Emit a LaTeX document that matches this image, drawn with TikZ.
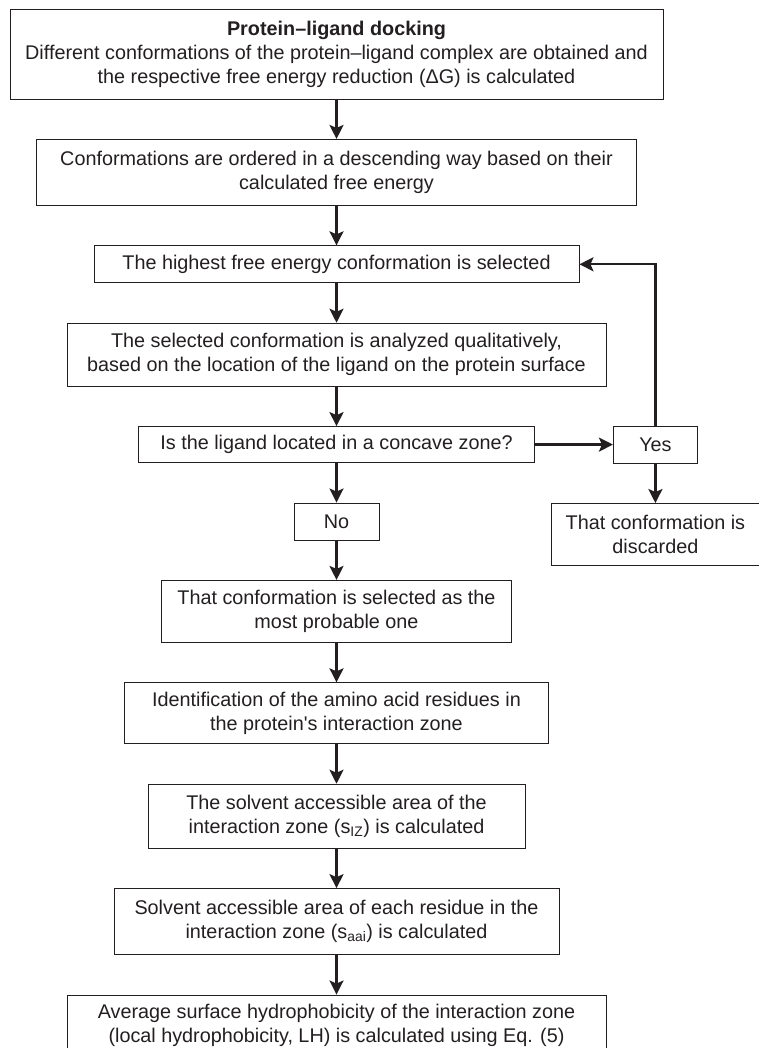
\documentclass[tikz,border=0pt]{standalone}
\usepackage{fontspec}
\setmainfont{Liberation Sans}
\usepackage{tikz}
\usetikzlibrary{positioning,arrows.meta}
\definecolor{inkgray}{HTML}{231F20}
\tikzset{
  box/.style={draw=inkgray,text=inkgray,line width=0.9pt,align=center,inner xsep=4pt,inner ysep=2pt,
    font=\fontsize{19.8}{24}\selectfont},
  arr/.style={-{Stealth[length=14pt,width=14pt,inset=3pt]},line width=2.4pt,draw=inkgray}
}

\begin{document}
\begin{tikzpicture}[x=1pt,y=1pt,node distance=39.5pt]
\useasboundingbox (0,0) rectangle (758,-1048);
\node[box, minimum width=653pt, minimum height=90pt] (dock) at (336.5,-54)
  {\textbf{Protein–ligand docking}\\Different conformations of the protein–ligand complex are obtained and\\the respective free energy reduction (ΔG) is calculated};
\node[box, below=of dock, minimum width=600pt, minimum height=66pt] (order)
  {Conformations are ordered in a descending way based on their\\calculated free energy};
\node[box, below=of order, minimum width=485pt, minimum height=37pt] (highest)
  {The highest free energy conformation is selected};
\node[box, below=of highest, minimum width=539pt, minimum height=63pt] (analyze)
  {The selected conformation is analyzed qualitatively,\\based on the location of the ligand on the protein surface};
\node[box, below=of analyze, minimum width=396pt, minimum height=36pt] (concave)
  {Is the ligand located in a concave zone?};
\node[box, right=78pt of concave, minimum width=84pt, minimum height=37pt] (yes) {Yes};
\node[box, below=of yes, minimum width=208pt, minimum height=62pt] (discard)
  {That conformation is\\discarded};
\node[box, below=of concave, minimum width=85pt, minimum height=37pt] (no) {No};
\node[box, below=of no, minimum width=350pt, minimum height=62pt] (probable)
  {That conformation is selected as the\\most probable one};
\node[box, below=of probable, minimum width=424pt, minimum height=61pt] (ident)
  {Identification of the amino acid residues in\\the protein\textquotesingle s interaction zone};
\node[box, below=of ident, minimum width=377pt, minimum height=64pt] (areaiz)
  {The solvent accessible area of the\\interaction zone (s\textsubscript{IZ}) is calculated};
\node[box, below=of areaiz, minimum width=445pt, minimum height=66pt] (areaaai)
  {Solvent accessible area of each residue in the\\interaction zone (s\textsubscript{aai}) is calculated};
\node[box, below=of areaaai, minimum width=539pt, minimum height=60pt] (lh)
  {Average surface hydrophobicity of the interaction zone\\(local hydrophobicity, LH) is calculated using Eq. (5)};
\draw[arr] (dock) -- (order);
\draw[arr] (order) -- (highest);
\draw[arr] (highest) -- (analyze);
\draw[arr] (analyze) -- (concave);
\draw[arr] (concave) -- (yes);
\draw[arr] (yes) -- (discard);
\draw[arr] (yes.north) |- (highest.east);
\draw[arr] (concave) -- (no);
\draw[arr] (no) -- (probable);
\draw[arr] (probable) -- (ident);
\draw[arr] (ident) -- (areaiz);
\draw[arr] (areaiz) -- (areaaai);
\draw[arr] (areaaai) -- (lh);
\end{tikzpicture}
\end{document}
